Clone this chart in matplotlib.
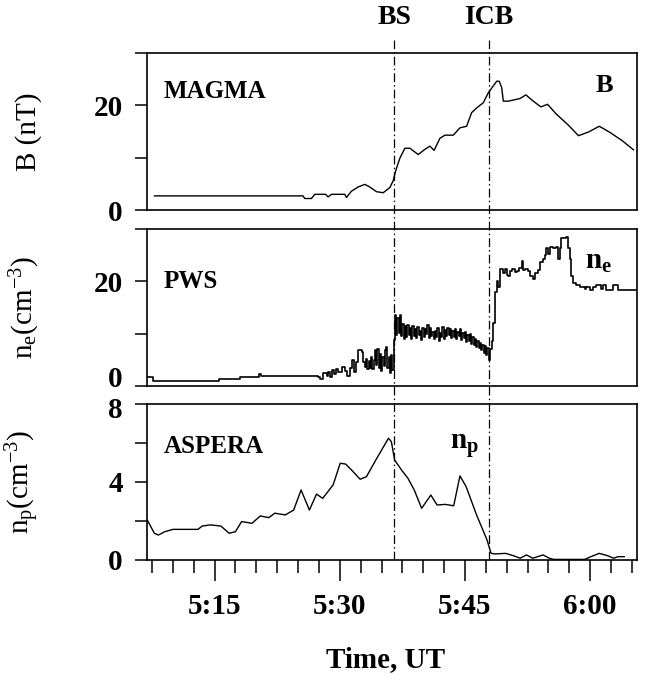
import numpy as np
import matplotlib
matplotlib.use('Agg')
import matplotlib.pyplot as plt
import matplotlib.transforms as mtransforms
from matplotlib.lines import Line2D
from matplotlib.ticker import FixedLocator, MultipleLocator, FuncFormatter

# =====================
# DATA (time in minutes after 5:00 UT)
# =====================
b_time = [7.8, 25.6, 25.8, 26.6, 27.0, 28.3, 28.6, 29.0, 30.6, 30.8, 31.4, 32.2,
          33.0, 33.6, 34.4, 35.2, 36.0, 36.4, 36.7, 37.2, 37.8, 38.4, 39.4, 40.2,
          40.8, 41.3, 42.0, 42.6, 43.6, 44.4, 45.2, 45.8, 46.4, 47.2, 47.8, 48.8,
          49.1, 49.4, 49.6, 50.2, 51.6, 52.3, 53.1, 54.1, 54.9, 55.9, 57.4, 58.6,
          59.8, 61.1, 62.3, 63.8, 65.2]
b_field = [2.7, 2.7, 2.2, 2.2, 3.0, 3.0, 2.5, 3.0, 3.0, 2.4, 3.6, 4.4,
           4.9, 4.4, 3.5, 3.3, 4.3, 5.6, 7.5, 9.9, 11.8, 11.8, 10.6, 11.6,
           12.2, 11.4, 13.7, 14.3, 14.3, 15.7, 16.0, 18.6, 19.5, 20.5, 22.4, 24.6,
           24.6, 23.4, 20.8, 20.8, 21.3, 22.0, 20.9, 19.7, 20.2, 18.4, 16.2, 14.2,
           14.9, 16.0, 14.9, 13.3, 11.5]

# PWS electron density: quiet part, pre-BS fluctuations
ne_time_quiet = [6.9, 7.6, 15.2, 15.5, 18.0, 20.3, 20.6, 21.5, 27.4, 27.64, 28.04,
                 28.44, 28.63, 28.83, 29.04, 29.31, 29.55, 29.83, 30.23, 30.63,
                 30.91, 31.23, 31.43, 31.71, 31.95, 32.22, 32.62, 32.82]
ne_quiet = [1.7, 1.0, 1.0, 1.3, 1.7, 2.2, 1.9, 1.9, 1.8, 1.3, 2.4,
            2.0, 2.6, 1.8, 3.1, 2.3, 3.3, 2.6, 3.7, 2.9,
            2.0, 3.4, 4.9, 2.6, 4.5, 6.8, 6.5, 4.5]
# dense fluctuating band just before the bow shock (sampled every 0.15 min)
ne_band1 = [3.6, 5.2, 3.3, 4.8, 3.5, 5.5, 3.2, 4.9, 6.8, 4.0, 7.1, 3.4,
            6.1, 2.9, 5.5, 3.8, 6.8, 7.4, 3.5, 5.6, 2.4, 6.0, 3.0]
ne_band1_start = 33.0
# magnetosheath band between BS and ICB (sampled every 0.15 min)
ne_band2 = [8.7, 13.5, 9.8, 12.9, 10.2, 13.6, 9.5, 11.8, 9.0, 11.4, 9.3, 11.6,
            9.8, 11.0, 8.9, 11.5, 9.6, 10.9, 9.1, 11.2, 9.7, 10.6, 8.8, 11.0,
            9.4, 10.8, 9.9, 11.7, 9.2, 11.0, 9.5, 10.4, 8.9, 10.6, 9.3, 11.1,
            8.6, 10.2, 9.4, 11.3, 9.0, 10.7, 9.6, 11.0, 9.8, 10.9, 9.1, 10.5,
            9.4, 10.8, 8.9, 10.4, 9.5, 10.9, 8.7, 10.1, 9.2, 10.3, 8.5, 9.7,
            8.6, 9.9, 8.0, 9.4, 7.9, 9.0, 7.5, 8.6, 7.2, 8.3, 6.8, 7.9,
            6.3, 7.6, 5.9, 7.2, 4.9]
ne_band2_start = 36.45
ne_time_after = [48.0, 48.2, 48.4, 48.6, 48.8, 49.0, 49.2, 49.5, 49.8, 50.0, 50.2,
                 50.4, 50.6, 51.0, 51.2, 51.5, 51.8, 52.0, 52.2, 52.5, 52.77,
                 53.17, 53.37, 53.77, 53.97, 54.36, 54.6, 54.77, 54.96, 55.16,
                 55.56, 55.96, 56.16, 56.36, 56.56, 57.16, 57.36, 57.56, 57.76,
                 57.95, 58.35, 58.75, 59.35, 59.55, 59.95, 60.35, 60.75, 61.35,
                 61.55, 61.95, 62.55, 62.75, 63.15, 63.35, 65.55]
ne_after = [7.0, 8.6, 12.1, 17.9, 20.1, 19.0, 22.3, 21.5, 22.3, 21.2, 21.0,
            22.0, 22.3, 21.8, 22.0, 22.5, 23.9, 22.2, 22.3, 22.0, 21.1,
            20.5, 21.5, 22.1, 23.7, 24.3, 25.0, 26.3, 25.2, 26.6,
            26.3, 26.6, 24.3, 26.3, 28.2, 28.5, 26.3, 24.3, 21.1,
            19.6, 19.3, 18.9, 18.6, 18.9, 18.3, 18.9, 19.3, 18.6,
            19.3, 18.3, 18.3, 19.3, 19.3, 18.3, 18.3]

np_time = [6.93, 7.78, 8.27, 9.02, 10.02, 13.01, 13.51, 14.50, 15.75, 16.74, 17.49,
           18.24, 19.48, 20.48, 21.48, 22.22, 23.47, 24.47, 25.36, 26.36, 27.21,
           27.95, 29.20, 30.05, 30.70, 31.44, 32.44, 33.19, 34.43, 35.83, 36.18,
           36.57, 37.42, 38.17, 38.92, 39.81, 40.91, 41.66, 42.65, 43.65, 44.40,
           45.14, 46.39, 47.64, 48.13, 48.63, 49.88, 50.87, 51.62, 52.37, 53.12,
           54.36, 55.11, 55.61, 59.35, 60.09, 61.09, 62.09, 62.83, 63.33, 64.08]
np_dens = [2.05, 1.37, 1.28, 1.45, 1.57, 1.57, 1.74, 1.80, 1.74, 1.37, 1.45,
           1.97, 1.88, 2.26, 2.17, 2.40, 2.31, 2.56, 3.59, 2.56, 3.38,
           3.16, 3.85, 4.96, 4.92, 4.60, 4.14, 4.27, 5.21, 6.24, 6.07,
           5.13, 4.60, 4.19, 3.59, 2.65, 3.33, 2.82, 2.85, 2.78, 4.31,
           3.76, 2.31, 1.03, 0.34, 0.31, 0.34, 0.21, 0.09, 0.26, 0.09,
           0.26, 0.09, 0.03, 0.03, 0.17, 0.34, 0.22, 0.09, 0.17, 0.17]

t_bs = 36.5
t_icb = 47.9

# build electron density series
step = 0.15
ne_t = np.concatenate([ne_time_quiet,
                       ne_band1_start + step * np.arange(len(ne_band1)),
                       ne_band2_start + step * np.arange(len(ne_band2)),
                       ne_time_after])
ne_v = np.concatenate([ne_quiet, ne_band1, ne_band2, ne_after])

# =====================
# STYLE
# =====================
plt.rcParams['font.family'] = ['Liberation Serif', 'DejaVu Serif']
plt.rcParams['font.weight'] = 'bold'
plt.rcParams['mathtext.default'] = 'regular'
plt.rcParams['axes.linewidth'] = 1.2

fig = plt.figure(figsize=(6.54, 6.81), dpi=100)
left, width = 0.2248, 0.749
ax1 = fig.add_axes([left, 0.6916, width, 0.2306])
ax2 = fig.add_axes([left, 0.4332, width, 0.2305])
ax3 = fig.add_axes([left, 0.1777, width, 0.2291])

xlim = (6.9, 65.6)

ax1.plot(b_time, b_field, color='black', lw=1.0)
ax2.plot(ne_t, ne_v, color='black', lw=1.2, drawstyle='steps-post')
ax3.plot(np_time, np_dens, color='black', lw=1.0)

def fmt_time(x, pos):
    m = int(round(x))
    return f"{5 + m // 60}:{m % 60:02d}"

tick_len, tick_pad = 8.5, 9
for ax in (ax1, ax2, ax3):
    ax.set_xlim(*xlim)
    ax.tick_params(axis='y', direction='out', length=tick_len, width=1.1,
                   labelsize=21, pad=tick_pad)
    ax.yaxis.set_label_coords(-0.215, 0.5)

ax1.set_ylim(0, 30)
ax1.set_yticks([0, 10, 20, 30])
ax1.set_yticklabels(['0', '', '20', ''])
ax2.set_ylim(0, 30)
ax2.set_yticks([0, 10, 20, 30])
ax2.set_yticklabels(['', '', '20', ''])
ax3.set_ylim(0, 8)
ax3.set_yticks([0, 2, 4, 6, 8])
ax3.set_yticklabels(['0', '', '4', '', ''])

# the "0" of the middle panel and the "8" of the bottom panel sit very close:
# place them by hand, nudged apart a little
def side_label(ax, yval, text, dy):
    off = mtransforms.ScaledTranslation(-(tick_len + tick_pad) / 72, dy / 72,
                                        fig.dpi_scale_trans)
    ax.text(0, yval, text, transform=ax.get_yaxis_transform() + off,
            fontsize=21, ha='right', va='center')

side_label(ax2, 0, '0', 4.5)
side_label(ax3, 8, '8', -4.5)

for ax in (ax1, ax2):
    ax.tick_params(axis='x', which='both', bottom=False, labelbottom=False)

ax3.xaxis.set_major_locator(FixedLocator([15, 30, 45, 60]))
ax3.xaxis.set_minor_locator(MultipleLocator(2.5))
ax3.xaxis.set_major_formatter(FuncFormatter(fmt_time))
ax3.tick_params(axis='x', which='major', direction='out', length=15, width=1.1,
                labelsize=21, pad=9)
ax3.tick_params(axis='x', which='minor', direction='out', length=9, width=1.1)

ax1.set_ylabel('B (nT)', fontsize=21)
ax2.set_ylabel(r'n$_{e}$(cm$^{-3}$)', fontsize=21)
ax3.set_ylabel(r'n$_{p}$(cm$^{-3}$)', fontsize=21)

ax1.text(0.034, 0.752, 'MAGMA', transform=ax1.transAxes, fontsize=18, va='center')
ax1.text(0.934, 0.79, 'B', transform=ax1.transAxes, fontsize=19, ha='center', va='center')
ax2.text(0.034, 0.664, 'PWS', transform=ax2.transAxes, fontsize=18, va='center')
ax2.text(0.895, 0.79, r'n$_{e}$', transform=ax2.transAxes, fontsize=21, va='center')
ax3.text(0.034, 0.726, 'ASPERA', transform=ax3.transAxes, fontsize=18, va='center')
ax3.text(0.618, 0.73, r'n$_{p}$', transform=ax3.transAxes, fontsize=21, va='center')

fig.text(0.59, 0.031, 'Time, UT', fontsize=21, ha='center', va='center')

# boundary crossings, drawn across all panels
trans = mtransforms.blended_transform_factory(ax3.transData, fig.transFigure)
for t_cross, name in [(t_bs, 'BS'), (t_icb, 'ICB')]:
    fig.add_artist(Line2D([t_cross, t_cross], [0.1777, 0.9413], transform=trans,
                          color='black', lw=0.9, linestyle=(0, (7, 2.5, 1.2, 2.5))))
    fig.text(t_cross, 0.9736, name, transform=trans, fontsize=20,
             ha='center', va='center')

fig.savefig('out.png', dpi=100)
